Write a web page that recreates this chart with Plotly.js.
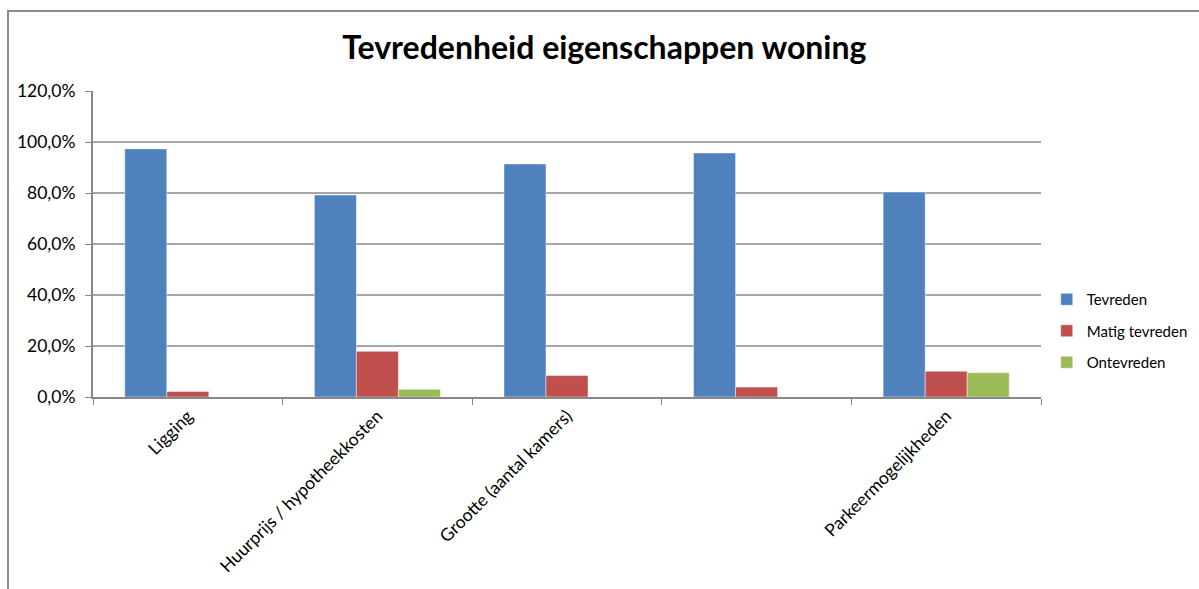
<!DOCTYPE html>
<html><head><meta charset="utf-8">
<script src="https://cdn.plot.ly/plotly-3.0.1.min.js"></script>
<style>
html,body{margin:0;padding:0;background:#fff;}
#wrap{position:relative;width:1199px;height:589px;}
#chart{width:1199px;height:589px;}
#frame{position:absolute;left:7px;top:10px;right:-2px;bottom:-2px;border-left:2px solid #8c8c8c;border-top:2px solid #8c8c8c;pointer-events:none;}
</style></head>
<body><div id="wrap"><div id="chart"></div><div id="frame"></div></div>
<script>
const categories = ["Ligging", "Huurprijs / hypotheekkosten", "Grootte (aantal kamers)", " ", "Parkeermogelijkheden"];
const seriesNames = ["Tevreden", "Matig tevreden", "Ontevreden"];
const tevreden = [0.973, 0.792, 0.914, 0.957, 0.804];
const matigTevreden = [0.022, 0.179, 0.084, 0.039, 0.101];
const ontevreden = [0.0, 0.030, 0.0, 0.0, 0.095];
const colors = ["#4F81BD", "#C0504D", "#9BBB59"];

const values = [tevreden, matigTevreden, ontevreden];
const data = values.map((v, i) => ({
  type: "bar",
  name: seriesNames[i],
  x: categories,
  y: v,
  marker: {color: colors[i], line: {color: "rgba(255,255,255,0.45)", width: 1}},
  legendgroup: "g" + i,
  hoverinfo: "skip"
}));

const layout = {
  width: 1199, height: 589,
  paper_bgcolor: "#fff", plot_bgcolor: "#fff",
  margin: {l: 93, r: 158, t: 91, b: 192, autoexpand: false},
  separators: ",.",
  font: {family: "Lato, 'Open Sans', sans-serif", size: 15, color: "#000"},
  title: {text: "Tevredenheid eigenschappen woning", x: 0.504, xref: "container", xanchor: "center", y: 0.918, yref: "container", yanchor: "middle",
          font: {family: "Lato, sans-serif", size: 32, color: "#000", weight: "bold"}},
  barmode: "group",
  bargap: 0.335,
  bargroupgap: 0,
  showlegend: true,
  legend: {xref: "container", yref: "container", x: 0.873, xanchor: "left", y: 0.438, yanchor: "middle", traceorder: "grouped", tracegroupgap: 9,
           font: {family: "Lato, sans-serif", size: 15, color: "#000"}, itemwidth: 30, bgcolor: "rgba(0,0,0,0)"},
  xaxis: {
    type: "category",
    tickangle: -45,
    tickson: "boundaries",
    ticks: "outside", ticklen: 6, tickcolor: "#888", tickwidth: 1,
    showline: true, linecolor: "#888", linewidth: 2,
    showgrid: false,
    tickfont: {family: "Lato, sans-serif", size: 17.5, color: "#000"},
    automargin: false
  },
  yaxis: {
    range: [0, 1.2], dtick: 0.2, tick0: 0,
    tickformat: ".1%",
    showline: true, linecolor: "#888", linewidth: 2,
    ticks: "outside", ticklen: 6, tickcolor: "#888",
    ticklabelstandoff: 6,
    showgrid: true, gridcolor: "#a6a6a6", gridwidth: 1.5,
    zeroline: false,
    tickfont: {family: "Lato, sans-serif", size: 17.5, color: "#000"},
    automargin: false
  }
};
Plotly.newPlot("chart", data, layout, {displayModeBar: false, staticPlot: true});
</script></body></html>
